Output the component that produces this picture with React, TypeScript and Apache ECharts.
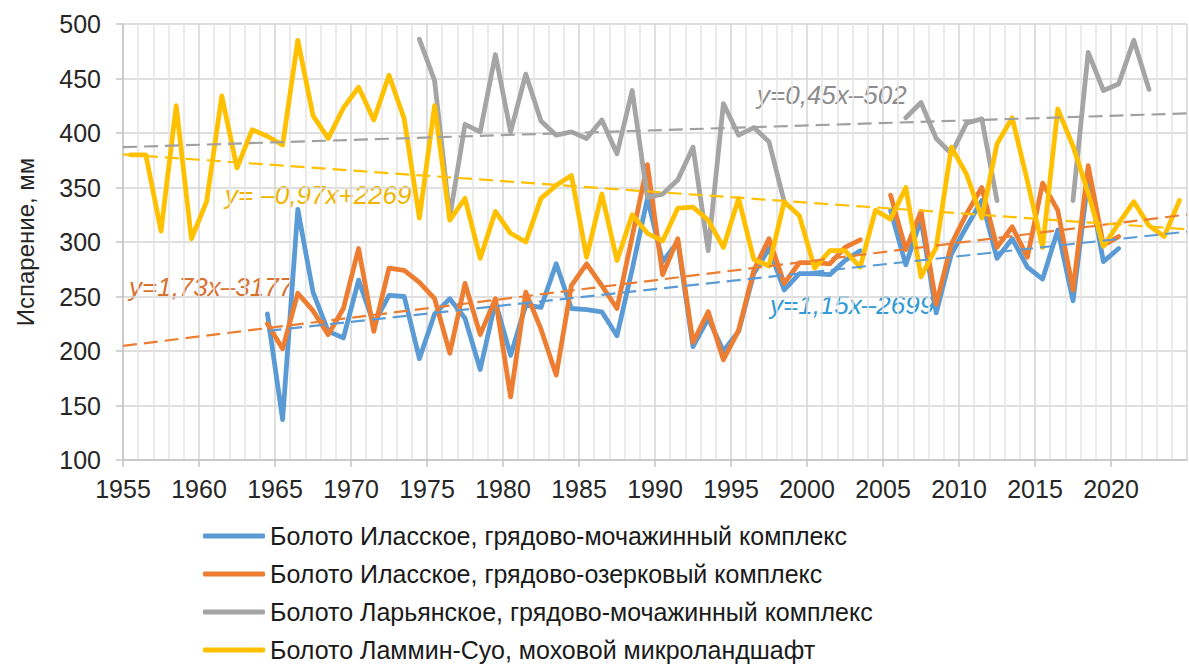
import React, { useEffect, useRef } from "react";
import * as echarts from "echarts";

// ---- data ----
const seriesNames = [
  "Болото Иласское, грядово-мочажинный комплекс",
  "Болото Иласское, грядово-озерковый комплекс",
  "Болото Ларьянское, грядово-мочажинный комплекс",
  "Болото Ламмин-Суо, моховой микроландшафт",
];

const blueStart = 1964;
const blueValues: (number | null)[] = [
  234, 137, 330, 254, 218, 212, 265, 225, 251, 250, // 1964-1973
  193, 234, 248, 230, 183, 245, 196, 242, 240, 280, // 1974-1983
  239, 238, 236, 214, 275, 340, 282, 300, 204, 230, // 1984-1993
  200, 218, 271, 294, 256, 271, 271, 270, 283, 292, // 1994-2003
  null, 329, 279, 321, 235, 289, 314, 338, 285, 303, // 2004-2013
  277, 266, 311, 246, 358, 282, 294, // 2014-2020
];

const orangeStart = 1964;
const orangeValues: (number | null)[] = [
  225, 202, 253, 237, 215, 239, 294, 218, 276, 274, // 1964-1973
  263, 248, 198, 262, 215, 248, 158, 254, 220, 178, // 1974-1983
  260, 280, 260, 239, 305, 371, 270, 303, 208, 236, // 1984-1993
  192, 219, 274, 303, 262, 281, 281, 280, 295, 302, // 1994-2003
  null, 343, 293, 328, 243, 298, 326, 350, 295, 314, // 2004-2013
  286, 354, 329, 256, 370, 297, 305, // 2014-2020
];

const grayStart = 1974;
const grayValues: (number | null)[] = [
  486, 448, 323, 408, 401, 472, 401, 454, 411, 398, // 1974-1983
  401, 395, 412, 381, 439, 341, 344, 357, 387, 292, // 1984-1993
  427, 398, 405, 392, 337, null, null, null, null, null, // 1994-2003
  null, null, 414, 428, 395, 381, 409, 413, 338, null, // 2004-2013
  null, null, null, 338, 474, 439, 445, 485, 440, // 2014-2022
];

const yellowStart = 1955;
const yellowValues: (number | null)[] = [
  380, 380, 310, 425, 303, 337, 434, 368, 403, 397, // 1955-1964
  389, 485, 416, 395, 423, 442, 412, 453, 413, 322, // 1965-1974
  425, 320, 340, 285, 328, 308, 300, 340, 352, 361, // 1975-1984
  286, 344, 283, 325, 308, 301, 331, 332, 320, 295, // 1985-1994
  340, 284, 278, 337, 324, 276, 292, 292, 277, 329, // 1995-2004
  321, 350, 268, 295, 387, 362, 322, 390, 414, 356, // 2005-2014
  295, 422, 388, 345, 296, 317, 337, 315, 305, 338, // 2015-2024
];

// linear trend lines as drawn in the picture: [axis position, value]
const trendBlue: [number, number][] = [[1964.5, 218.5], [2025, 309.5]];
const trendOrange: [number, number][] = [[1955, 204.7], [2025, 325.2]];
const trendGray: [number, number][] = [[1955, 387], [2025, 418]];
const trendYellow: [number, number][] = [[1955, 380.4], [2025, 311.6]];

const trendLabels = [
  "y=1,15x–2699",
  "y=1,73x–3177",
  "y=0,45x–502",
  "y= –0,97x+2269",
];

const xTicks = { min: 1955, max: 2025, step: 5 };
const yTicks = { min: 100, max: 500, step: 50 };

const colors = ["#5b9bd5", "#ed7d31", "#a5a5a5", "#ffc000"];
const FONT = "'Liberation Sans', Arial, sans-serif";

// a year's value is drawn in the middle of its year
const toPoints = (start: number, vals: (number | null)[]) =>
  vals.map((v, i) => [start + i + 0.5, v === null ? "-" : v]);

export default function App() {
  const ref = useRef<HTMLDivElement>(null);

  useEffect(() => {
    if (!ref.current) return;
    const chart = echarts.init(ref.current, undefined, { renderer: "svg" });

    const mainLine = (name: string, color: string, data: any[]) => ({
      name,
      type: "line",
      data,
      symbol: "none",
      connectNulls: false,
      lineStyle: { color, width: 4.8, cap: "round", join: "round" },
      itemStyle: { color },
      z: 3,
    });
    const trendLine = (color: string, data: any[]) => ({
      type: "line",
      data,
      symbol: "none",
      silent: true,
      lineStyle: { color, width: 2.2, type: [14, 7] },
      z: 4,
    });

    const option: any = {
      animation: false,
      backgroundColor: "#ffffff",
      textStyle: { fontFamily: FONT },
      grid: {
        left: 123,
        right: 2,
        top: 24,
        bottom: 210,
        containLabel: false,
        outerBoundsMode: "none",
      },
      xAxis: {
        type: "value",
        min: xTicks.min,
        max: xTicks.max,
        interval: xTicks.step,
        axisLine: { show: true, lineStyle: { color: "#c4c4c4", width: 1.5 } },
        axisTick: { show: true, length: 7, lineStyle: { color: "#c4c4c4", width: 1.5 } },
        axisLabel: {
          fontSize: 25,
          color: "#262626",
          fontFamily: FONT,
          margin: 16,
          showMaxLabel: false,
          formatter: (v: number) => String(v),
        },
        splitLine: { show: true, lineStyle: { color: "#d4d4d4", width: 1.5 } },
        minorTick: { show: false, splitNumber: 5 },
        minorSplitLine: { show: true, lineStyle: { color: "#e4e4e4", width: 1.5 } },
      },
      yAxis: {
        type: "value",
        min: yTicks.min,
        max: yTicks.max,
        interval: yTicks.step,
        name: "Испарение, мм",
        nameLocation: "middle",
        nameGap: 86,
        nameTextStyle: { fontSize: 24, color: "#262626", fontFamily: FONT },
        axisLine: { show: true, lineStyle: { color: "#c4c4c4", width: 1.5 } },
        axisTick: { show: true, length: 7, lineStyle: { color: "#c4c4c4", width: 1.5 } },
        axisLabel: { fontSize: 25, color: "#262626", fontFamily: FONT, margin: 22 },
        splitLine: { show: true, lineStyle: { color: "#d4d4d4", width: 1.5 } },
      },
      legend: {
        orient: "vertical",
        left: 203,
        top: 523,
        padding: 0,
        height: 147,
        data: seriesNames,
        icon: "roundRect",
        itemWidth: 62,
        itemHeight: 5,
        itemGap: 12,
        textStyle: { fontSize: 25, color: "#1a1a1a", fontFamily: FONT, lineHeight: 26 },
      },
      series: [
        mainLine(seriesNames[0], colors[0], toPoints(blueStart, blueValues)),
        mainLine(seriesNames[1], colors[1], toPoints(orangeStart, orangeValues)),
        mainLine(seriesNames[2], colors[2], toPoints(grayStart, grayValues)),
        mainLine(seriesNames[3], colors[3], toPoints(yellowStart, yellowValues)),
        trendLine("#5b9bd5", trendBlue),
        trendLine("#ed7d31", trendOrange),
        trendLine("#a0a0a0", trendGray),
        trendLine("#ffc000", trendYellow),
      ],
      graphic: [
        {
          type: "text", left: 770, top: 292, silent: true,
          style: { text: trendLabels[0], fill: "#2f9ad3", font: `italic 26px ${FONT}` },
        },
        {
          type: "text", left: 129, top: 274, silent: true,
          style: { text: trendLabels[1], fill: "#d9712f", font: `italic 26px ${FONT}` },
        },
        {
          type: "text", left: 757, top: 82, silent: true,
          style: { text: trendLabels[2], fill: "#8c8c8c", font: `italic 26px ${FONT}` },
        },
        {
          type: "text", left: 225, top: 182, silent: true,
          style: { text: trendLabels[3], fill: "#f0b400", font: `italic 26px ${FONT}` },
        },
      ],
    };

    chart.setOption(option);
    return () => chart.dispose();
  }, []);

  return (
    <div
      ref={ref}
      style={{ position: "fixed", left: 0, top: 0, width: 1189, height: 670, background: "#fff" }}
    />
  );
}
